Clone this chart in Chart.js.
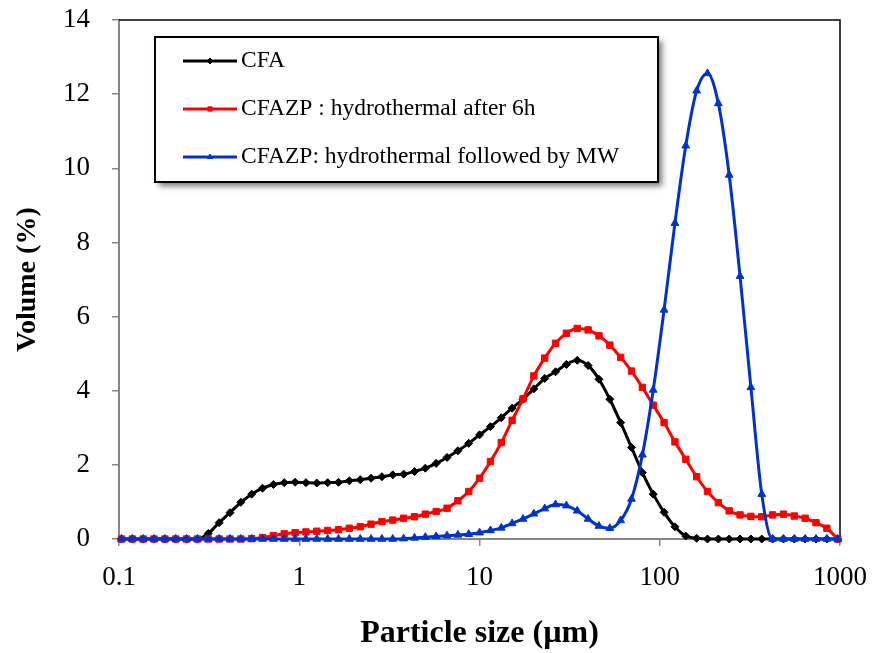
<!DOCTYPE html>
<html>
<head>
<meta charset="utf-8">
<title>Particle size distribution</title>
<script src="https://cdn.jsdelivr.net/npm/chart.js@4.4.1/dist/chart.umd.min.js"></script>
<style>
  html, body { margin: 0; padding: 0; background: #fff; }
  .chart-wrap { position: relative; width: 875px; height: 653px; }
</style>
</head>
<body>
<div class="chart-wrap"><canvas id="psd-chart"></canvas></div>
<script>
// size classes in µm
const sizes = [
  0.1032, 0.1186, 0.1362, 0.1564, 0.1797, 0.2064, 0.2371, 0.2723, 0.3128, 0.3594,
  0.4128, 0.4742, 0.5447, 0.6257, 0.7187, 0.8256, 0.9484, 1.089, 1.251, 1.438,
  1.651, 1.897, 2.179, 2.503, 2.875, 3.302, 3.794, 4.358, 5.006, 5.750,
  6.605, 7.587, 8.715, 10.01, 11.50, 13.21, 15.17, 17.43, 20.02, 23.00,
  26.42, 30.35, 34.86, 40.04, 46.00, 52.84, 60.69, 69.72, 80.09, 92.00,
  105.7, 121.4, 139.4, 160.2, 184.0, 211.4, 242.8, 278.9, 320.4, 368.0,
  422.7, 485.6, 557.8, 640.7, 736.0, 845.4, 971.1,
];

// volume % per size class
const cfa = [
  0, 0, 0, 0, 0, 0, 0, 0, 0.15, 0.44,
  0.71, 0.99, 1.21, 1.37, 1.47, 1.52, 1.53, 1.52, 1.51, 1.52,
  1.53, 1.57, 1.60, 1.64, 1.68, 1.73, 1.75, 1.82, 1.91, 2.04,
  2.20, 2.38, 2.58, 2.81, 3.03, 3.27, 3.53, 3.77, 4.05, 4.33,
  4.51, 4.71, 4.82, 4.68, 4.31, 3.77, 3.14, 2.47, 1.79, 1.21,
  0.72, 0.33, 0.08, 0.02, 0, 0, 0, 0, 0, 0,
  0, 0, 0, 0, 0, 0, 0,
];
const cfazpHydro = [
  0, 0, 0, 0, 0, 0, 0, 0, 0, 0,
  0, 0, 0.01, 0.04, 0.09, 0.14, 0.17, 0.19, 0.21, 0.23,
  0.25, 0.29, 0.33, 0.40, 0.47, 0.51, 0.56, 0.60, 0.67, 0.74,
  0.83, 1.03, 1.28, 1.64, 2.09, 2.60, 3.20, 3.78, 4.40, 4.88,
  5.28, 5.55, 5.68, 5.64, 5.48, 5.23, 4.90, 4.53, 4.09, 3.61,
  3.14, 2.62, 2.15, 1.68, 1.28, 0.98, 0.76, 0.65, 0.61, 0.60,
  0.65, 0.67, 0.62, 0.56, 0.44, 0.29, 0,
];
const cfazpHydroMw = [
  0, 0, 0, 0, 0, 0, 0, 0, 0, 0,
  0, 0, 0, 0, 0, 0, 0, 0, 0, 0,
  0, 0, 0, 0, 0, 0, 0.01, 0.03, 0.05, 0.07,
  0.09, 0.11, 0.13, 0.17, 0.23, 0.30, 0.42, 0.54, 0.68, 0.82,
  0.93, 0.90, 0.76, 0.54, 0.35, 0.29, 0.50, 1.08, 2.27, 4.02,
  6.18, 8.52, 10.61, 12.09, 12.56, 11.75, 9.82, 7.09, 4.09, 1.21,
  0, 0, 0, 0, 0, 0, 0,
];

const seriesNames = [
  "CFA",
  "CFAZP : hydrothermal after 6h",
  "CFAZP: hydrothermal followed by MW",
];
const xTicks = [0.1, 1, 10, 100, 1000];

const serif = '"Liberation Serif", "Times New Roman", serif';
const axisGray = "#868686";

Chart.defaults.font.family = serif;
Chart.defaults.color = "#000";

const toPoints = (values) => values.map((v, i) => ({ x: sizes[i], y: v }));

// keep the plot area fixed: the layout padding alone decides the margins
const fixScaleBox = (scale, size) => {
  if (scale.isHorizontal()) {
    scale.height = size;
  } else {
    scale.width = size;
  }
  scale.paddingTop = 0;
  scale.paddingBottom = 0;
  scale.paddingLeft = 0;
  scale.paddingRight = 0;
};

// black frame along the top and right of the plot area
const plotFrame = {
  id: "plotFrame",
  beforeDatasetsDraw(chart) {
    const { ctx, chartArea: a } = chart;
    ctx.save();
    ctx.strokeStyle = "#000";
    ctx.lineWidth = 1.5;
    ctx.beginPath();
    ctx.moveTo(a.left, a.top);
    ctx.lineTo(a.right, a.top);
    ctx.lineTo(a.right, a.bottom);
    ctx.stroke();
    ctx.restore();
  },
};

// boxed legend with drop shadow, drawn inside the plot
const boxLegend = {
  id: "boxLegend",
  afterDatasetsDraw(chart, args, opts) {
    const { ctx } = chart;
    const { x, y, width, height, firstRow, rowGap } = opts;
    ctx.save();
    ctx.shadowColor = "rgba(0, 0, 0, 0.55)";
    ctx.shadowBlur = 6;
    ctx.shadowOffsetX = 4;
    ctx.shadowOffsetY = 4;
    ctx.fillStyle = "#fff";
    ctx.fillRect(x, y, width, height);
    ctx.shadowColor = "transparent";
    ctx.strokeStyle = "#000";
    ctx.lineWidth = 2;
    ctx.strokeRect(x, y, width, height);

    ctx.font = `23.5px ${serif}`;
    ctx.textBaseline = "middle";
    chart.data.datasets.forEach((ds, i) => {
      const cy = y + firstRow + i * rowGap;
      ctx.strokeStyle = ds.borderColor;
      ctx.fillStyle = ds.backgroundColor;
      ctx.lineWidth = 3;
      ctx.beginPath();
      ctx.moveTo(x + 28, cy);
      ctx.lineTo(x + 82, cy);
      ctx.stroke();
      ctx.lineWidth = 1;
      Chart.helpers.drawPoint(ctx, { pointStyle: ds.pointStyle, radius: 3, borderWidth: 1 }, x + 55, cy);
      ctx.fillStyle = "#000";
      ctx.fillText(ds.label, x + 86, cy);
    });
    ctx.restore();
  },
};

const makeSeries = (label, values, color, style, radius, order) => ({
  label: label,
  data: toPoints(values),
  borderColor: color,
  backgroundColor: color,
  borderWidth: 3,
  pointStyle: style,
  pointRadius: radius,
  pointBorderWidth: 1,
  cubicInterpolationMode: "monotone",
  clip: false,
  order: order,
});

const psdChart = new Chart(document.getElementById("psd-chart"), {
  type: "line",
  data: {
    datasets: [
      makeSeries(seriesNames[0], cfa, "#000000", "rectRot", 4, 3),
      makeSeries(seriesNames[1], cfazpHydro, "#FF0000", "rect", 4.5, 2),
      makeSeries(seriesNames[2], cfazpHydroMw, "#0033CC", "triangle", 4.5, 1),
    ],
  },
  options: {
    responsive: true,
    maintainAspectRatio: false,
    devicePixelRatio: 1,
    animation: false,
    layout: { padding: { top: 20, right: 35, bottom: 0, left: 0 } },
    plugins: {
      legend: { display: false },
      tooltip: { enabled: false },
      boxLegend: { x: 155, y: 37, width: 503, height: 145, firstRow: 24, rowGap: 48 },
    },
    scales: {
      x: {
        type: "logarithmic",
        min: 0.1,
        max: 1000,
        afterBuildTicks: (scale) => {
          scale.ticks = xTicks.map((v) => ({ value: v }));
        },
        afterFit: (scale) => fixScaleBox(scale, 114),
        ticks: {
          callback: (v) => String(v),
          font: { size: 27 },
          color: "#000",
          padding: 16,
          maxRotation: 0,
          autoSkip: false,
        },
        grid: { drawOnChartArea: false, tickLength: 7, color: axisGray, lineWidth: 1.5 },
        border: { color: axisGray, width: 2 },
        title: {
          display: true,
          text: "Particle size (µm)",
          font: { size: 32, weight: "bold" },
          color: "#000",
          padding: { top: 0, bottom: 0 },
        },
      },
      y: {
        min: 0,
        max: 14,
        afterFit: (scale) => fixScaleBox(scale, 119),
        ticks: { stepSize: 2, font: { size: 27 }, color: "#000", padding: 22 },
        grid: { drawOnChartArea: false, tickLength: 7, color: axisGray, lineWidth: 1.5 },
        border: { color: axisGray, width: 2 },
        title: {
          display: true,
          text: "Volume (%)",
          font: { size: 28, weight: "bold" },
          color: "#000",
          padding: { top: 11, bottom: 0 },
        },
      },
    },
  },
  plugins: [plotFrame, boxLegend],
});
</script>
</body>
</html>
